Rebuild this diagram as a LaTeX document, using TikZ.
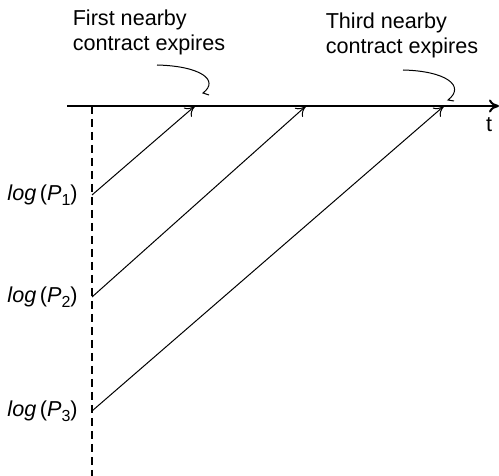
\documentclass[tikz,border=0pt]{standalone}
\usepackage{fontspec}
\setmainfont{Liberation Sans}
\usepackage{tikz}
\usetikzlibrary{arrows.meta,positioning,calc}

\begin{document}
\begin{tikzpicture}[x=0.5pt,y=-0.5pt,
  lbl/.style={font=\fontsize{10.8}{12.5}\selectfont,inner sep=0pt},
  note/.style={lbl,align=left},
  jump/.style={line width=0.5pt,-{To[length=5pt,width=6pt]}},
  leader/.style={line width=0.5pt}]
 \useasboundingbox (0,0) rectangle (499,476);
 % time axis and price axis
 \coordinate (t0) at (67,106);
 \coordinate (t1) at (499,106);
 \coordinate (v0) at (92,106);
 \coordinate (v1) at (92,476);
 \draw[line width=1pt,-{To[length=5pt,width=6.5pt]}] (t0) -- (t1);
 \draw[line width=0.8pt,dash pattern=on 4pt off 2.5pt] (v0) -- (v1);
 \node[lbl] (t) at (489,125) {t};
 % log prices and their expiries
 \foreach \i/\y/\x in {1/195/195, 2/297/306, 3/411/444} {
   \coordinate (p\i) at (92,\y);
   \coordinate (e\i) at (\x,106);
   \node[lbl,anchor=east] (log\i) at ($(p\i)+(-14,0)$) {\textit{log}\,(\textit{P}\raisebox{-0.45ex}{\fontsize{8}{8}\selectfont\i})};
   \draw[jump] (p\i) -- (e\i);
 }
 % notes
 \node[note] (first) at (149,32) {First nearby\\contract expires};
 \node[note] (third) at (402,35) {Third nearby\\contract expires};
 \coordinate (f0) at (157,65);
 \coordinate (f1) at (203,93);
 \coordinate (h0) at (403,70);
 \coordinate (h1) at (448,100);
 \draw[leader] (f0) .. controls (200,66) and (220,80) .. (f1) -- ++(6,2);
 \draw[leader] (h0) .. controls (446,71) and (466,86) .. (h1) -- ++(6,1);
\end{tikzpicture}
\end{document}
